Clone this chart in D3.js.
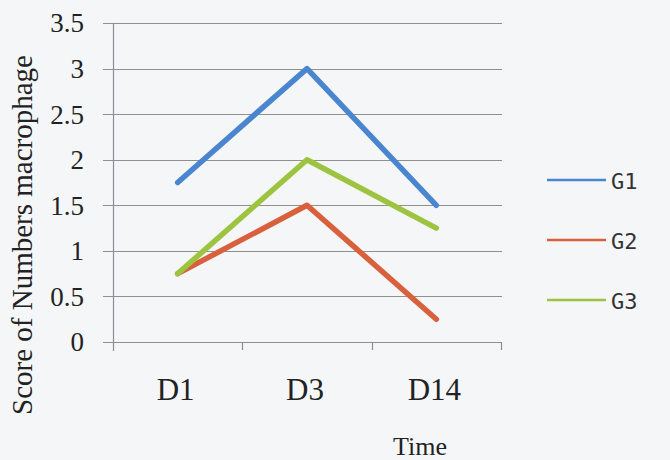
<!DOCTYPE html>
<html>
<head>
<meta charset="utf-8">
<script src="https://cdn.jsdelivr.net/npm/d3@7"></script>
<style>
  html, body { margin: 0; padding: 0; background: #f5f6f8; }
  svg { display: block; }
</style>
</head>
<body>
<script>
const categories = ["D1", "D3", "D14"];
const seriesNames = ["G1", "G2", "G3"];
const g1 = [1.75, 3.0, 1.5];
const g2 = [0.75, 1.5, 0.25];
const g3 = [0.75, 2.0, 1.25];
const yTicks = [0, 0.5, 1, 1.5, 2, 2.5, 3, 3.5];
const yTickLabels = ["0", "0.5", "1", "1.5", "2", "2.5", "3", "3.5"];
const colors = ["#4a86d0", "#d9603d", "#9cc440"];

const W = 670, H = 460;
const plot = { left: 113, right: 501, top: 23, bottom: 342 };

const svg = d3.select("body").append("svg").attr("width", W).attr("height", H);

const x = d3.scaleBand().domain(categories).range([plot.left, plot.right]).padding(0);
const y = d3.scaleLinear().domain([0, 3.5]).range([plot.bottom, plot.top]);

const serif = "'Liberation Serif', 'Times New Roman', serif";

// gridlines
svg.append("g")
  .selectAll("line")
  .data(yTicks)
  .join("line")
  .attr("x1", plot.left - 10)
  .attr("x2", plot.right + 1)
  .attr("y1", d => Math.round(y(d)) + 0.5)
  .attr("y2", d => Math.round(y(d)) + 0.5)
  .attr("stroke", "#8f918a")
  .attr("stroke-width", 1.2);

// y axis line
svg.append("line")
  .attr("x1", plot.left + 0.5).attr("x2", plot.left + 0.5)
  .attr("y1", plot.top).attr("y2", plot.bottom + 9)
  .attr("stroke", "#8a8d99").attr("stroke-width", 1.2);

// x-axis ticks at band boundaries
const bounds = categories.map(c => x(c) + x.bandwidth());
svg.append("g").selectAll("line").data(bounds).join("line")
  .attr("x1", d => Math.round(d) + 0.5).attr("x2", d => Math.round(d) + 0.5)
  .attr("y1", plot.bottom).attr("y2", plot.bottom + 8)
  .attr("stroke", "#8a8d99").attr("stroke-width", 1.2);

// y tick labels
svg.append("g").selectAll("text").data(yTicks).join("text")
  .attr("x", 84)
  .attr("y", d => y(d))
  .attr("dy", "0.35em")
  .attr("text-anchor", "end")
  .attr("font-family", serif)
  .attr("font-size", 27)
  .attr("fill", "#222")
  .text((d, i) => yTickLabels[i]);

// x labels
svg.append("g").selectAll("text").data(categories).join("text")
  .attr("x", d => x(d) + x.bandwidth() / 2 - 2)
  .attr("y", 400)
  .attr("text-anchor", "middle")
  .attr("font-family", serif)
  .attr("font-size", 31)
  .attr("fill", "#222")
  .text(d => d);

// axis titles
svg.append("text")
  .attr("x", 420).attr("y", 455)
  .attr("text-anchor", "middle")
  .attr("font-family", serif)
  .attr("font-size", 26)
  .attr("fill", "#222")
  .text("Time");

svg.append("text")
  .attr("transform", "translate(32,235) rotate(-90)")
  .attr("text-anchor", "middle")
  .attr("font-family", serif)
  .attr("font-size", 29)
  .attr("fill", "#222")
  .text("Score of Numbers macrophage");

// lines
const series = [g1, g2, g3];
const line = d3.line()
  .x((d, i) => x(categories[i]) + x.bandwidth() / 2)
  .y(d => y(d));

svg.append("g").selectAll("path").data(series).join("path")
  .attr("d", d => line(d))
  .attr("fill", "none")
  .attr("stroke", (d, i) => colors[i])
  .attr("stroke-width", 5.5)
  .attr("stroke-linejoin", "round")
  .attr("stroke-linecap", "round");

// legend
const legendY = [180, 240, 300];
const lg = svg.append("g").selectAll("g").data(seriesNames).join("g")
  .attr("transform", (d, i) => `translate(547,${legendY[i]})`);
lg.append("line")
  .attr("x1", 0).attr("x2", 59).attr("y1", 0).attr("y2", 0)
  .attr("stroke", (d, i) => colors[i]).attr("stroke-width", 2.5);
lg.append("text")
  .attr("x", 64).attr("y", 9)
  .attr("font-family", "'DejaVu Sans Mono', monospace")
  .attr("font-size", 22)
  .attr("fill", "#333")
  .text(d => d);
</script>
</body>
</html>
